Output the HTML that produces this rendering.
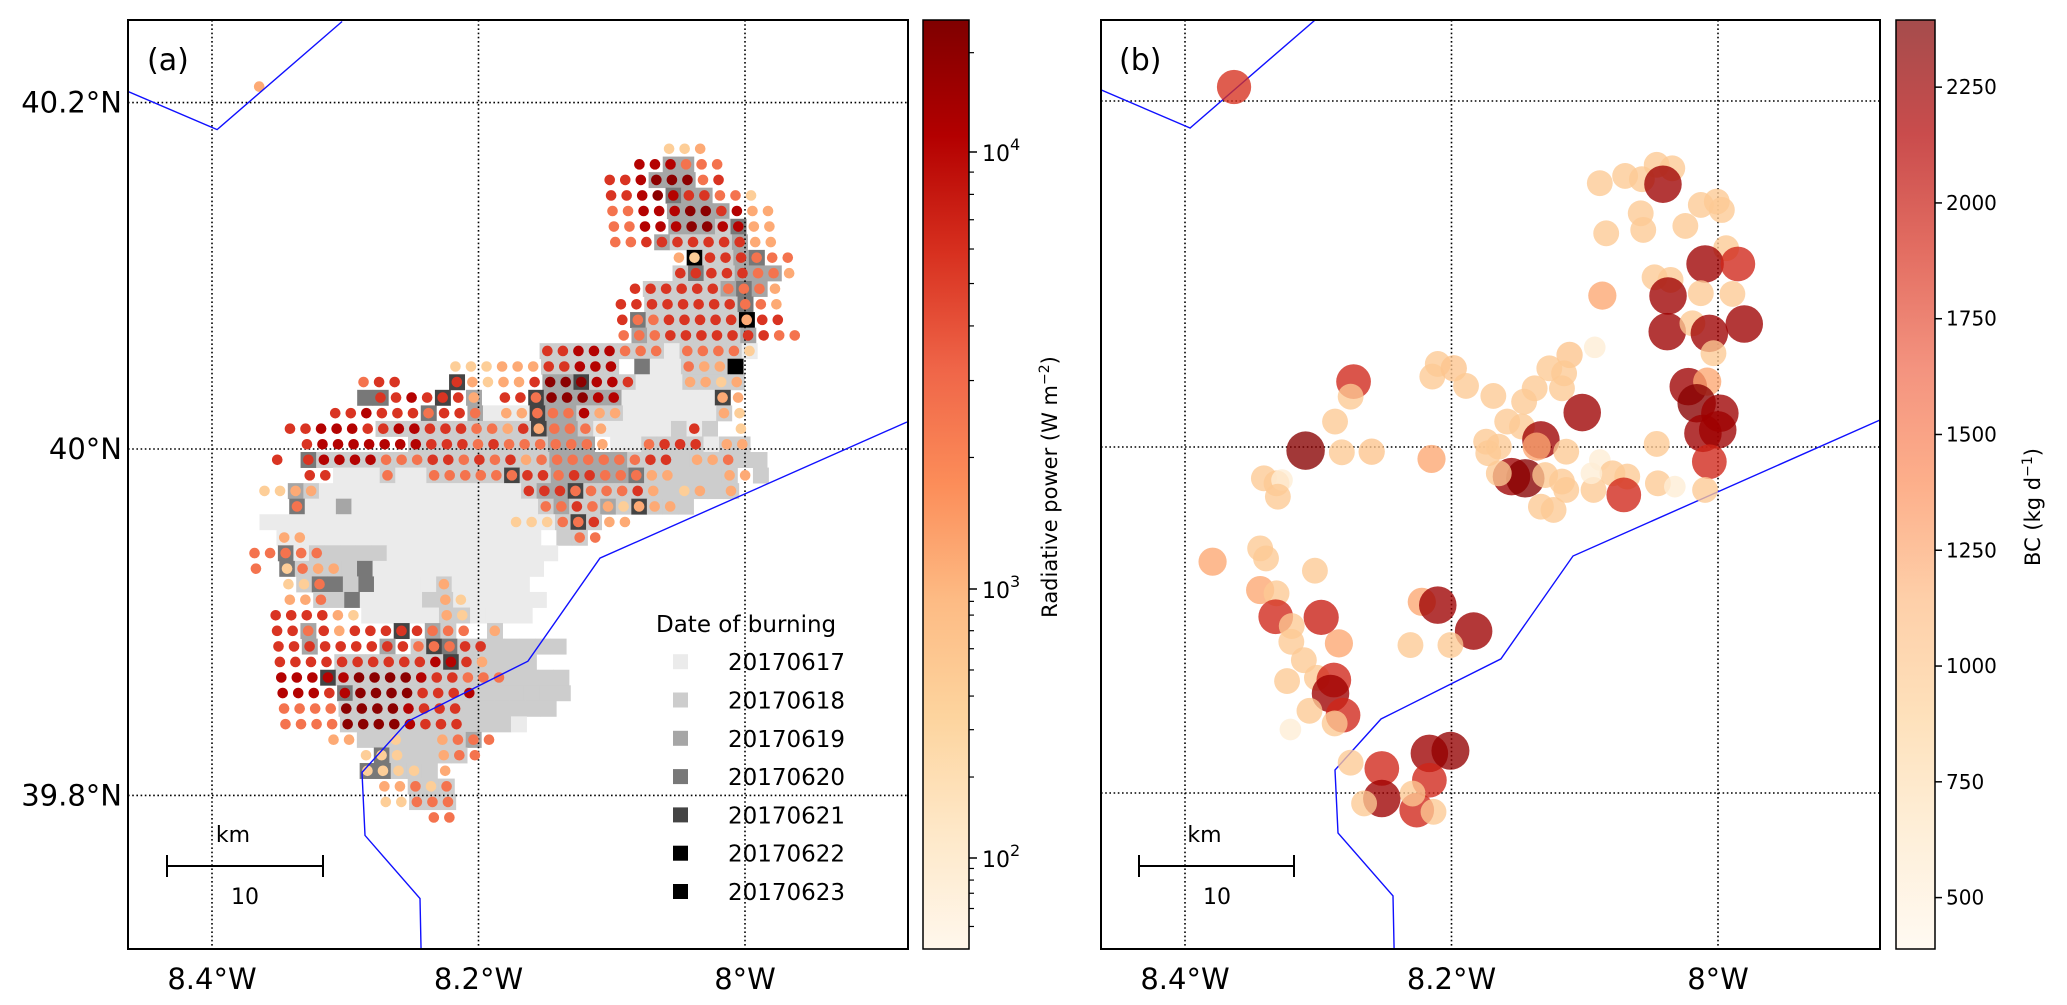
<!DOCTYPE html>
<html>
<head>
<meta charset="utf-8">
<style>
  html,body{margin:0;padding:0;background:#fff;}
  svg{display:block;font-family:"DejaVu Sans","Liberation Sans",sans-serif;}
</style>
</head>
<body>
<svg id="chart" width="2067" height="1005" viewBox="0 0 2067 1005" xmlns="http://www.w3.org/2000/svg">
  <defs>
    <clipPath id="clipA"><rect x="128" y="20" width="780" height="929"/></clipPath>
    <clipPath id="clipB"><rect x="1101" y="20" width="779" height="929"/></clipPath>
    <linearGradient id="gradA" x1="0" y1="1" x2="0" y2="0">
      <stop offset="0" stop-color="#fff7ec"/><stop offset="0.125" stop-color="#fee8c8"/>
      <stop offset="0.25" stop-color="#fdd49e"/><stop offset="0.375" stop-color="#fdbb84"/>
      <stop offset="0.5" stop-color="#fc8d59"/><stop offset="0.625" stop-color="#ef6548"/>
      <stop offset="0.75" stop-color="#d7301f"/><stop offset="0.875" stop-color="#b30000"/>
      <stop offset="1" stop-color="#7f0000"/>
    </linearGradient>
    <linearGradient id="gradB" x1="0" y1="1" x2="0" y2="0">
      <stop offset="0" stop-color="#fff7ec" stop-opacity="0.7"/><stop offset="0.125" stop-color="#fee8c8" stop-opacity="0.7"/>
      <stop offset="0.25" stop-color="#fdd49e" stop-opacity="0.7"/><stop offset="0.375" stop-color="#fdbb84" stop-opacity="0.7"/>
      <stop offset="0.5" stop-color="#fc8d59" stop-opacity="0.7"/><stop offset="0.625" stop-color="#ef6548" stop-opacity="0.7"/>
      <stop offset="0.75" stop-color="#d7301f" stop-opacity="0.7"/><stop offset="0.875" stop-color="#b30000" stop-opacity="0.7"/>
      <stop offset="1" stop-color="#7f0000" stop-opacity="0.7"/>
    </linearGradient>
  </defs>
  <g id="panelA"></g>
  <g id="panelB"></g>
</svg>
<script>
// ---------------- DATA ----------------
const gridRows = [
[-22,0,"b",0,""],
[-18,26,"aab",0,""],
[-17,24,"eeeccc",26,"33"],
[-16,22,"ddefffcd",25,"333"],
[-15,22,"ddefeddcca",26,"433"],
[-14,22,"cceeeffdebb",26,"3333"],
[-13,22,"cceeeffeebb",26,"33324"],
[-12,22,"ccdddddddbb",25,"322223"],
[-11,26,"badddccc",26," 62234"],
[-10,26,"dddddccb",26,"2422333"],
[-9,23,"ddddddcccb",24,"22222343"],
[-8,22,"ddddddddccb",24,"2222224"],
[-7,22,"dccdddddbdd",23,"42222226"],
[-6,22,"cccdddddddcc",23,"32222223"],
[-5,17,"ddeeeccc cccca",17,"22222222122221"],
[-4,11,"aaabbbddeee    cbb ",11,"      22222 4112226"],
[-3,5,"cdd   dbabbdfffeed   bbab",5,"      5     3352221112222"],
[-2,5," ddedddb ddcfffee      bb",5,"44   5 3   5333331111115 "],
[-1,3,"ddedddcddc bbcccebb      ba",3,"      4  31115332221111112 "],
[0,0,"ddeeeddeedddccbdbcccb     d  a",0,"      2222222222533211111212 "],
[1,1,"deeeeeeedddcdccccccb  cddd bb",1,"       222222222333 112222122"],
[2,-1,"d deeeecccddcdcdbcccccccdd bbc",-1,"  422222222222222233333222222222"],
[3,1,"dd   c  ccccccddcddcccbb   bb",1,"  11121122222522333334222222 2"],
[4,-2,"aabb             dddccccdb ab b",-2,"  32111111111111123352222222222"],
[5,0,"c               ccdcbabbb",0,"41131111111111112322325222"],
[6,14,"aaaccdbb",-2,"1111111111111111111252"],
[7,-1,"bb                 cc",-1,"11111111111111111 22"],
[8,-3,"ccccc",-1,"412222211111111111"],
[9,-3,"c acbb",-1,"42222411111111111"],
[10,-1,"aac       b",-1," 244241111211111"],
[11,-1,"bbc       ba",1,"224111122111111"],
[12,-2,"ddddba     ba",4,"11111221111"],
[13,-2,"ddcdbdddddccc b",0,"3     5 32  2"],
[14,-2,"dddddddddcccdd",0,"3    3 2542222222"],
[15,-2,"ddddddddddeedb",-2,"    2222222522222 "],
[16,-2,"eeeeeffffeddccc",-2,"   5222222222222222"],
[17,-2,"eeedeffffddde",-2,"    422222222222222"],
[18,-2,"ccccffffeddd",2,"22222222222222"],
[19,-2,"ccccffffeddd",2,"222222222221"],
[20,1,"bb  a  bccc",3,"22222223"],
[21,3,"aaa  bcc",3," 422222"],
[22,3,"aaaa b",3,"44222"],
[23,4,"bbcac",6,"222"],
[24,4,"aaccc",6,"222"],
[25,7,"cc",0,""]
];
const dotClassLevels = {a:0.28,b:0.42,c:0.58,d:0.74,e:0.87,f:0.97};
const grayLevelColors = {"1":"#ebebeb","2":"#cdcdcd","3":"#a6a6a6","4":"#787878","5":"#444444","6":"#000000"};

const bcLon = [-8.0887,-8.0697,-8.0571,-8.0460,-8.0343,-8.0413,-8.0129,-8.0009,-7.9971,-8.0580,-8.0561,-8.0839,-8.0245,-7.9939,-8.0097,-7.9851,-8.0476,-8.0356,-8.0375,-8.0129,-7.9892,-8.0868,-8.0381,-8.0192,-8.0065,-7.9803,-8.0034,-8.0925,-8.0223,-8.0081,-8.0160,-7.9986,-8.0113,-8.0002,-8.0065,-8.0460,-8.0097,
 -8.2735,-8.2757,-8.2874,-8.3095,-8.2823,-8.2599,-8.3408,-8.3313,-8.3272,-8.3303,-8.2150,-8.2144,-8.2103,-8.1983,-8.1891,-8.1686,-8.1114,-8.1266,-8.1155,-8.1171,-8.1376,-8.1455,-8.1582,-8.1471,-8.1740,-8.1724,-8.1645,-8.1329,-8.1361,-8.1139,-8.1019,-8.1550,-8.1446,-8.1645,-8.1297,-8.1171,-8.1139,-8.1329,-8.1234,-8.0934,-8.0887,-8.0792,-8.0681,-8.0707,-8.0451,-8.0324,-8.0950,
 -8.3793,-8.3436,-8.3392,-8.3025,-8.3436,-8.3313,-8.3319,-8.2978,-8.3199,-8.3202,-8.2845,-8.3108,-8.2223,-8.2103,-8.1834,-8.2308,-8.2008,-8.3234,-8.3010,-8.2883,-8.2908,-8.2814,-8.3066,-8.2877,-8.3209,-8.2757,-8.2523,-8.2166,-8.2008,-8.2166,-8.2523,-8.2656,-8.2261,-8.2292,-8.2135,-8.3632];
const bcLat = [40.1525,40.1567,40.1548,40.1631,40.1611,40.1519,40.1399,40.1419,40.1370,40.1351,40.1255,40.1235,40.1278,40.1149,40.1058,40.1058,40.0981,40.0966,40.0873,40.0889,40.0885,40.0875,40.0667,40.0715,40.0657,40.0711,40.0542,40.0576,40.0349,40.0378,40.0253,40.0195,40.0079,40.0099,39.9915,40.0018,39.9752,
 40.0378,40.0291,40.0147,39.9979,39.9969,39.9973,39.9819,39.9790,39.9809,39.9713,39.9931,40.0407,40.0480,40.0455,40.0353,40.0295,40.0532,40.0455,40.0426,40.0339,40.0339,40.0262,40.0147,40.0118,40.0031,39.9964,40.0002,40.0041,40.0002,39.9973,40.0199,39.9829,39.9819,39.9848,39.9838,39.9800,39.9752,39.9655,39.9636,39.9752,39.9925,39.9848,39.9829,39.9723,39.9790,39.9771,39.9848,
 39.9337,39.9414,39.9356,39.9285,39.9173,39.9154,39.9019,39.9015,39.8965,39.8874,39.8865,39.8768,39.9105,39.9086,39.8936,39.8855,39.8855,39.8647,39.8666,39.8653,39.8575,39.8450,39.8475,39.8402,39.8367,39.8175,39.8142,39.8229,39.8244,39.8074,39.7968,39.7940,39.7901,39.7997,39.7891,40.2081];
const bcValue = [1000,1000,1000,1000,1000,2250,1000,1000,1000,1000,1000,1000,1000,1000,2250,1950,1000,1000,2250,1000,1000,1250,2250,1000,2250,2250,1000,550,2250,1250,2350,2250,2250,2250,1950,1000,1000,
 1950,1000,1000,2350,1000,1050,1000,1000,550,1000,1250,1000,1000,1050,1000,1000,1050,1000,1000,1000,1000,1000,1000,1000,1000,1000,1000,2250,1250,1000,2250,2250,2350,1000,1000,1000,1000,1000,1000,1000,550,1000,1000,1950,1000,550,550,
 1250,1000,1000,1000,1250,1000,1950,2000,1000,1000,1250,1000,1250,2250,2250,1000,1000,1000,1000,1950,2250,1950,1000,1000,550,1000,1950,2250,2300,1950,2250,1000,1950,1000,1000,1900];

const lonTicks = [-8.4,-8.2,-8.0];
const lonTickLabels = ["8.4°W","8.2°W","8°W"];
const latTicks = [40.2,40.0,39.8];
const latTickLabels = ["40.2°N","40°N","39.8°N"];
const powerMajorTicks = [2,3,4];
const powerMinorTicks = [1.699,1.778,1.845,1.903,1.954,2.301,2.477,2.602,2.699,2.778,2.845,2.903,2.954,3.301,3.477,3.602,3.699,3.778,3.845,3.903,3.954,4.301];
const bcTicks = [500,750,1000,1250,1500,1750,2000,2250];
const legendDates = ["20170617","20170618","20170619","20170620","20170621","20170622","20170623"];
const legendColors = ["#ebebeb","#cdcdcd","#a6a6a6","#787878","#444444","#000000","#000000"];
const borderNorthLon = [-8.463,-8.3962,-8.3024];
const borderNorthLat = [40.2064,40.1844,40.2468];
const borderSouthLon = [-7.8784,-8.1088,-8.1629,-8.2529,-8.2874,-8.2852,-8.2439,-8.2431];
const borderSouthLat = [40.0156,39.937,39.8775,39.8428,39.8133,39.7769,39.7405,39.7098];

// ---------------- HELPERS ----------------
const NS = "http://www.w3.org/2000/svg";
const svg = document.getElementById('chart');
const gA = document.getElementById('panelA');
const gB = document.getElementById('panelB');
function mk(tag, attrs, parent){ const e=document.createElementNS(NS,tag); for(const k in attrs) e.setAttribute(k,attrs[k]); parent.appendChild(e); return e; }
const OrRd = ['#fff7ec','#fee8c8','#fdd49e','#fdbb84','#fc8d59','#ef6548','#d7301f','#b30000','#7f0000'];
function hex(c){return [parseInt(c.substr(1,2),16),parseInt(c.substr(3,2),16),parseInt(c.substr(5,2),16)];}
function cmap(t){ t=Math.max(0,Math.min(1,t)); const p=t*(OrRd.length-1); const i=Math.min(Math.floor(p),OrRd.length-2); const f=p-i; const a=hex(OrRd[i]), b=hex(OrRd[i+1]); return 'rgb('+a.map((v,k)=>Math.round(v+(b[k]-v)*f)).join(',')+')'; }

const xA = lon => 212 + (lon + 8.4) * 1332.5;
const yA = lat => 449 - (lat - 40) * 1732;
const xB = lon => 1185 + (lon + 8.4) * 1332.5;
const yB = lat => 447 - (lat - 40) * 1730;
const gridPitch = 15.55;
const cellX = (r,c) => 290 + gridPitch * (c + 0.09 * r);
const cellY = r => 428.7 + gridPitch * r;
const logAnchors = [1.6,2,3,4,4.4], logAnchorY = [949,858,589,152,20];
function yPower(lg){ for(let i=0;i<logAnchors.length-1;i++){ if(lg<=logAnchors[i+1]||i===logAnchors.length-2){ const f=(lg-logAnchors[i])/(logAnchors[i+1]-logAnchors[i]); return logAnchorY[i]+f*(logAnchorY[i+1]-logAnchorY[i]); } } }
const bcMin = 389, bcMax = 2395;
const yBC = v => 949 - (v - bcMin) / (bcMax - bcMin) * 929;
const rBC = v => Math.max(9, 12 + (v - 800) * 7 / 1500);

// ---------------- PANEL A ----------------
const plotA = mk('g',{'clip-path':'url(#clipA)'},gA);


gridRows.forEach(row=>{
  const [r,,,gs,gstr] = row;
  for(let i=0;i<gstr.length;i++){
    const ch=gstr[i]; if(ch===' ') continue;
    const sq = mk('rect',{x:cellX(r,gs+i)-gridPitch/2,y:cellY(r)-gridPitch/2,width:gridPitch+0.4,height:gridPitch+0.4,fill:grayLevelColors[ch]},plotA);
    
    
  }
});
lonTicks.forEach(l=>{ const ln=mk('line',{x1:xA(l),x2:xA(l),y1:20,y2:949,stroke:'#000','stroke-width':1.6,'stroke-dasharray':'1.6,2.6'},plotA);
  
   });
latTicks.forEach(l=>{ const ln=mk('line',{x1:128,x2:908,y1:yA(l),y2:yA(l),stroke:'#000','stroke-width':1.6,'stroke-dasharray':'1.6,2.6'},plotA);
  
   });
gridRows.forEach(row=>{
  const [r,ds,dstr] = row;
  for(let i=0;i<dstr.length;i++){
    const ch=dstr[i]; if(ch===' ') continue;
    const dot = mk('circle',{cx:cellX(r,ds+i),cy:cellY(r),r:5.3,fill:cmap(dotClassLevels[ch])},plotA);
    
    
  }
});
function borderPath(lons,lats,fx,fy){ return lons.map((l,i)=>(i?'L':'M')+fx(l).toFixed(1)+' '+fy(lats[i]).toFixed(1)).join(' '); }
const bA1 = mk('path',{d:borderPath(borderNorthLon,borderNorthLat,xA,yA),fill:'none',stroke:'#1010ff','stroke-width':1.4},plotA);


const bA2 = mk('path',{d:borderPath(borderSouthLon,borderSouthLat,xA,yA),fill:'none',stroke:'#1010ff','stroke-width':1.4},plotA);



// ---------------- PANEL B ----------------
const plotB = mk('g',{'clip-path':'url(#clipB)'},gB);


lonTicks.forEach(l=>{ const ln=mk('line',{x1:xB(l),x2:xB(l),y1:20,y2:949,stroke:'#000','stroke-width':1.6,'stroke-dasharray':'1.6,2.6'},plotB);
  
   });
latTicks.forEach(l=>{ const ln=mk('line',{x1:1101,x2:1880,y1:yB(l),y2:yB(l),stroke:'#000','stroke-width':1.6,'stroke-dasharray':'1.6,2.6'},plotB);
  
   });
const bB1 = mk('path',{d:borderPath(borderNorthLon,borderNorthLat,xB,yB),fill:'none',stroke:'#1010ff','stroke-width':1.4},plotB);


const bB2 = mk('path',{d:borderPath(borderSouthLon,borderSouthLat,xB,yB),fill:'none',stroke:'#1010ff','stroke-width':1.4},plotB);


bcLon.forEach((lon,i)=>{
  const v=bcValue[i];
  const c = mk('circle',{cx:xB(lon),cy:yB(bcLat[i]),r:rBC(v),fill:cmap((v-bcMin)/(bcMax-bcMin)),'fill-opacity':0.78},plotB);
  
  
});

// ---------------- FRAMES, TICKS, LABELS ----------------
function txt(parent,x,y,s,size,anchor,name){ const t=mk('text',{x:x,y:y,'font-size':size,'text-anchor':anchor||'start',fill:'#000'},parent); t.textContent=s;   return t; }
[[gA,128,20,780,929,'panel-a-frame'],[gB,1101,20,779,929,'panel-b-frame']].forEach(f=>{
  const r=mk('rect',{x:f[1],y:f[2],width:f[3],height:f[4],fill:'none',stroke:'#000','stroke-width':2},f[0]);
  
  
});
lonTicks.forEach((l,i)=>{ txt(gA,xA(l),989,lonTickLabels[i],29,'middle','x-tick-label'); txt(gB,xB(l),989,lonTickLabels[i],29,'middle','x-tick-label'); });
latTicks.forEach((l,i)=>{ txt(gA,122,yA(l)+10,latTickLabels[i],29,'end','y-tick-label'); });
txt(gA,147,70,'(a)',30,'start','panel-a-label');
txt(gB,1119,70,'(b)',30,'start','panel-b-label');

[[gA,167,323],[gB,1139,1294]].forEach(s=>{
  const p=mk('path',{d:`M${s[1]} 866 H${s[2]} M${s[1]} 855 V877 M${s[2]} 855 V877`,stroke:'#000','stroke-width':2,fill:'none'},s[0]);
  
  
  txt(s[0],(s[1]+s[2])/2-12,842,'km',22,'middle','scale-bar-unit');
  txt(s[0],s[1]+78,904,'10',22,'middle','scale-bar-length');
});

txt(gA,656,632,'Date of burning',23,'start','legend-title');
legendDates.forEach((d,i)=>{
  const y=661.7+i*38.3;
  const sq=mk('rect',{x:673,y:y-7.5,width:15,height:15,fill:legendColors[i]},gA);
  
  
  txt(gA,728,y+8.5,d,23,'start','legend-entry');
});

const cbA = mk('rect',{x:923,y:20,width:46,height:929,fill:'url(#gradA)',stroke:'#000','stroke-width':1.5},gA);


powerMinorTicks.forEach(lg=>{ const y=yPower(lg); if(y<20||y>949) return; const t=mk('line',{x1:969,x2:974,y1:y,y2:y,stroke:'#000','stroke-width':1.2},gA);
  
   });
powerMajorTicks.forEach(lg=>{ const y=yPower(lg); const t=mk('line',{x1:969,x2:977,y1:y,y2:y,stroke:'#000','stroke-width':1.5},gA);
  
  
  const tx=txt(gA,982,y+9,'10',22,'start','colorbar-tick-label');
  const sp=mk('tspan',{dy:-11,'font-size':16},tx); sp.textContent=String(lg); });
const labA = mk('text',{x:0,y:0,'font-size':21,'text-anchor':'middle',transform:'translate(1057,487) rotate(-90)'},gA);


labA.innerHTML='Radiative power (W m<tspan dy="-8" font-size="14">−2</tspan><tspan dy="8">)</tspan>';

const cbB = mk('rect',{x:1896,y:20,width:39,height:929,fill:'url(#gradB)',stroke:'#000','stroke-width':1.5},gB);


bcTicks.forEach(v=>{ const y=yBC(v); const t=mk('line',{x1:1935,x2:1942,y1:y,y2:y,stroke:'#000','stroke-width':1.5},gB);
  
  
  txt(gB,1946,y+7,String(v),20,'start','colorbar-tick-label'); });
const labB = mk('text',{x:0,y:0,'font-size':21,'text-anchor':'middle',transform:'translate(2040,507) rotate(-90)'},gB);


labB.innerHTML='BC (kg d<tspan dy="-8" font-size="14">−1</tspan><tspan dy="8">)</tspan>';
</script>
</body>
</html>
